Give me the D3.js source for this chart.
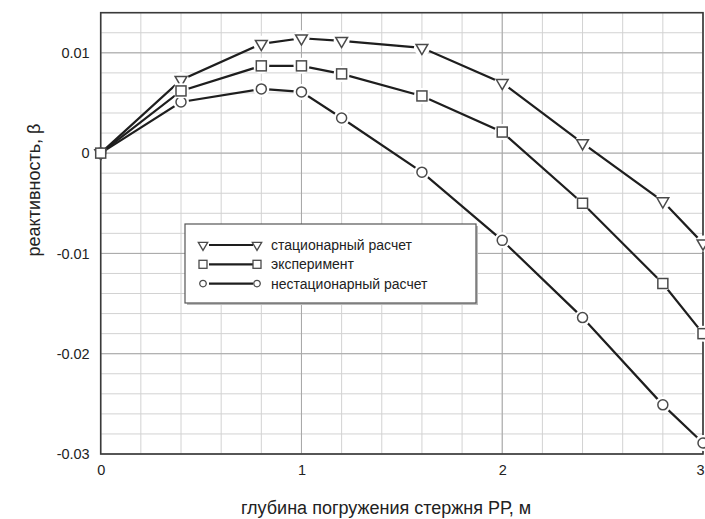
<!DOCTYPE html>
<html lang="ru">
<head>
<meta charset="UTF-8">
<title>reactivity vs depth</title>
<script src="https://cdn.jsdelivr.net/npm/d3@7"></script>
<style>
  body { margin: 0; background: #fff; }
  text { font-family: Arial, "Liberation Sans", sans-serif; fill: #222; }
</style>
</head>
<body>
<script>
// rod depth, m
var depth = [0, 0.4, 0.8, 1.0, 1.2, 1.6, 2.0, 2.4, 2.8, 3.0];
// reactivity values
var stationary    = [0, 0.0073, 0.0109, 0.01145, 0.0112, 0.0105, 0.0070, 0.0010, -0.0048, -0.0090];
var experiment    = [0, 0.0062, 0.0087, 0.0087, 0.0079, 0.0057, 0.0021, -0.0050, -0.0130, -0.0180];
var nonstationary = [0, 0.0051, 0.0064, 0.0061, 0.0035, -0.0019, -0.0087, -0.0164, -0.0251, -0.0289];
var seriesNames = ["стационарный расчет", "эксперимент", "нестационарный расчет"];
var xTicks = [0, 1, 2, 3];
var yTicks = [0.01, 0, -0.01, -0.02, -0.03];

var W = 705, H = 519;
var margin = {top: 12.7, right: 2, left: 100.7, bottom: 65};

var svg = d3.select("body").append("svg")
    .attr("width", W)
    .attr("height", H);

var x = d3.scaleLinear().domain([0, 3]).range([margin.left, W - margin.right]);
var y = d3.scaleLinear().domain([-0.03, 0.014]).range([H - margin.bottom, margin.top]);

// minor grid
var g = svg.append("g");
g.selectAll(".vminor").data(d3.range(0, 3.0001, 0.2)).enter().append("line")
    .attr("x1", d => x(d)).attr("x2", d => x(d))
    .attr("y1", y.range()[1]).attr("y2", y.range()[0])
    .attr("stroke", "#d2d2d2").attr("stroke-width", 1);
g.selectAll(".hminor").data(d3.range(-0.03, 0.0141, 0.002)).enter().append("line")
    .attr("x1", x.range()[0]).attr("x2", x.range()[1])
    .attr("y1", d => y(d)).attr("y2", d => y(d))
    .attr("stroke", "#d2d2d2").attr("stroke-width", 1);

// major grid
g.selectAll(".vmajor").data(xTicks).enter().append("line")
    .attr("x1", d => x(d)).attr("x2", d => x(d))
    .attr("y1", y.range()[1]).attr("y2", y.range()[0])
    .attr("stroke", "#a8a8a8").attr("stroke-width", 1);
g.selectAll(".hmajor").data(yTicks).enter().append("line")
    .attr("x1", x.range()[0]).attr("x2", x.range()[1])
    .attr("y1", d => y(d)).attr("y2", d => y(d))
    .attr("stroke", "#a8a8a8").attr("stroke-width", 1);

// axes with labels only (plain hyphen for minus, like the original)
var fmtY = d => d === 0 ? "0" : d3.format(".2f")(d).replace("\u2212", "-");
var xAxis = svg.append("g")
    .attr("transform", "translate(0," + y.range()[0] + ")")
    .call(d3.axisBottom(x).tickValues(xTicks).tickSize(0).tickPadding(11).tickFormat(d3.format("d")));
var yAxis = svg.append("g")
    .attr("transform", "translate(" + x.range()[0] + ",0)")
    .call(d3.axisLeft(y).tickValues(yTicks).tickSize(0).tickPadding(11).tickFormat(fmtY));
[xAxis, yAxis].forEach(function(a) {
  a.select(".domain").remove();
  a.selectAll("text").attr("font-size", 14.5).attr("fill", "#2a2a2a")
    .style("font-family", "Arial, 'Liberation Sans', sans-serif");
});
// last x label sits on the right edge; keep it inside the page
xAxis.selectAll(".tick").filter(d => d === 3).select("text").attr("dx", -3);

// frame
svg.append("rect")
    .attr("x", x.range()[0]).attr("y", y.range()[1])
    .attr("width", x.range()[1] - x.range()[0])
    .attr("height", y.range()[0] - y.range()[1])
    .attr("fill", "none").attr("stroke", "#3a3a3a").attr("stroke-width", 1.6);

// axis titles
svg.append("text")
    .attr("x", 386).attr("y", 514)
    .attr("text-anchor", "middle").attr("font-size", 18)
    .text("глубина погружения стержня РР, м");
svg.append("text")
    .attr("transform", "translate(40,190) rotate(-90)")
    .attr("text-anchor", "middle").attr("font-size", 18)
    .text("реактивность, β");

// markers
var tri = d3.symbol().type(d3.symbolTriangle);
function marker(sel, kind, size) {
  if (kind === "tri") {
    sel.append("path").attr("d", tri.size(size * size * 0.6)())
      .attr("transform", "rotate(180)");
  } else if (kind === "sq") {
    sel.append("rect").attr("x", -size / 2).attr("y", -size / 2)
      .attr("width", size).attr("height", size);
  } else {
    sel.append("circle").attr("r", size / 2);
  }
}

var series = [
  {name: seriesNames[0], vals: stationary, kind: "tri"},
  {name: seriesNames[1], vals: experiment, kind: "sq"},
  {name: seriesNames[2], vals: nonstationary, kind: "circle"}
];

var line = d3.line().x(d => x(d[0])).y(d => y(d[1]));

series.forEach(function(s) {
  var pts = depth.map((d, i) => [d, s.vals[i]]);
  svg.append("path").datum(pts)
    .attr("d", line)
    .attr("fill", "none").attr("stroke", "#1e1e1e").attr("stroke-width", 2.2);
});

// experiment drawn last so its square sits on top at the origin
[series[2], series[0], series[1]].forEach(function(s) {
  var pts = depth.map((d, i) => [d, s.vals[i]]);
  var m = svg.append("g").selectAll("g").data(pts).enter().append("g")
    .attr("transform", d => "translate(" + x(d[0]) + "," + y(d[1]) + ")");
  // white halo to break the line around the mark
  m.append("circle").attr("r", d => d[0] === 0 ? 0 : 8).attr("fill", "#fff");
  var inner = m.append("g").attr("fill", "#fff").attr("stroke", "#4a4a4a").attr("stroke-width", 1.5);
  marker(inner, s.kind, 10);
});

// legend
var lg = svg.append("g").attr("transform", "translate(185,224)");
lg.append("rect").attr("x", 2).attr("y", 2).attr("width", 291).attr("height", 79)
  .attr("fill", "#bbb");
lg.append("rect").attr("width", 291).attr("height", 79)
  .attr("fill", "#fff").attr("stroke", "#555").attr("stroke-width", 1.2);
series.forEach(function(s, i) {
  var row = lg.append("g").attr("transform", "translate(0," + (21 + i * 19.3) + ")");
  row.append("line").attr("x1", 24).attr("x2", 68).attr("y1", 0).attr("y2", 0)
    .attr("stroke", "#1e1e1e").attr("stroke-width", 2.2);
  [18, 72].forEach(function(px) {
    var mk = row.append("g").attr("transform", "translate(" + px + ",0)")
      .attr("fill", "#fff").attr("stroke", "#4a4a4a").attr("stroke-width", 1.3);
    marker(mk, s.kind, s.kind === "circle" ? 6.5 : 8);
  });
  row.append("text").attr("x", 86).attr("y", 5).attr("font-size", 14).text(s.name);
});
</script>
</body>
</html>
